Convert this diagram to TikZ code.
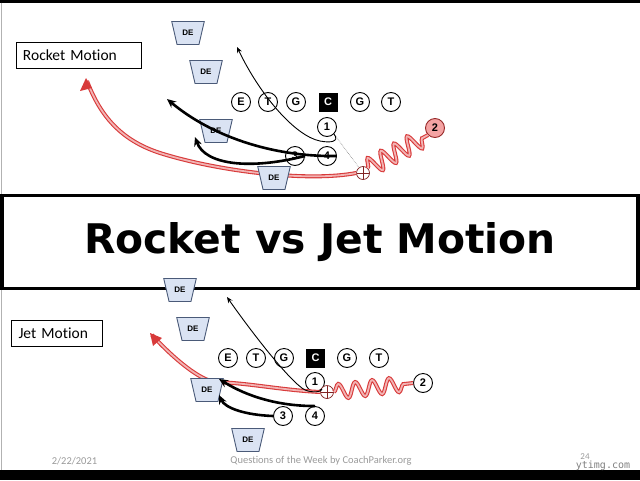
\documentclass[tikz,border=0pt]{standalone}
\usepackage{fontspec}
\setmainfont{Carlito}[Ligatures=NoCommon]
\newfontfamily\boldsans{Liberation Sans}
\newfontfamily\titlefont{DejaVu Sans}
\newfontfamily\markfont{DejaVu Sans Mono}
\usetikzlibrary{shapes.geometric,arrows.meta,decorations.pathmorphing}

\definecolor{defill}{HTML}{DAE3F3}
\definecolor{deline}{HTML}{4A5A78}
\definecolor{runred}{HTML}{D83A3A}
\definecolor{runpink}{HTML}{F2B4B4}
\definecolor{ballpink}{HTML}{F4A3A3}
\definecolor{footgray}{HTML}{9A9A9A}

\tikzstyle{man} = [circle, draw, fill=white, line width=0.9, minimum size=19, inner sep=0pt, font=\boldsans\bfseries\fontsize{11}{11}\selectfont]
\tikzstyle{snapper} = [rectangle, fill=black, text=white, minimum size=19, inner sep=0pt, font=\boldsans\bfseries\fontsize{11}{11}\selectfont]
\tikzstyle{de} = [trapezium, shape border rotate=180, trapezium left angle=77, trapezium right angle=77, draw=deline, fill=defill, line width=0.9, inner xsep=5.4, inner ysep=8.6, text height=5.8, text depth=0pt, font=\boldsans\bfseries\fontsize{8}{8}\selectfont]
\tikzstyle{cross} = [circle, draw=runred!60!black, fill=white, line width=0.7, minimum size=13, inner sep=0pt, path picture={\draw[runred!60!black, line width=0.6] (path picture bounding box.north) -- (path picture bounding box.south) (path picture bounding box.east) -- (path picture bounding box.west);}]
\tikzstyle{caption} = [draw, line width=1, minimum height=26, inner xsep=7, inner ysep=0pt, align=left, font=\fontsize{15.5}{15.5}\selectfont]
\tikzstyle{blocker} = [draw, line width=2.6, -{Stealth[length=9,width=8]}]
\tikzstyle{route} = [draw, line width=0.9, -{Stealth[length=6,width=5]}]
\tikzstyle{motion} = [draw=runred, line width=1.1, double=runpink, double distance=1.8]
\tikzstyle{wiggle} = [motion, decorate]
\tikzstyle{assign} = [draw=gray, densely dotted, line width=0.6]
\tikzstyle{foot} = [text=footgray, font=\fontsize{10.5}{10.5}\selectfont]

\begin{document}
\begin{tikzpicture}[x=1pt, y=-1pt]
    \useasboundingbox (0,0) rectangle (640,480);
    % Frame
    \fill (0,0) rectangle (640,2.5);
    \fill (0,470) rectangle (640,480);
    \draw[gray!60, line width=1] (1,2.5) -- (1,470);
    \node[draw, line width=3.2, minimum width=636, minimum height=93, inner sep=0pt,
      font=\titlefont\bfseries\fontsize{40.8}{40.8}\selectfont] (title) at (320,242) {Rocket vs Jet Motion};
    \node[caption, text width=111] (rocketcap) at (78.5,55) {Rocket Motion};
    \node[caption, text width=77] (jetcap) at (57,333) {Jet Motion};

    % Nodes (rocket)
    \foreach \n/\l/\x in {ue/E/241, ut/T/268, ug/G/296, ugr/G/360, utr/T/391}
      \node[man] (\n) at (\x,102) {\l};
    \node[snapper] (uc) at (328,102) {C};
    \node[man] (u1) at (327,127) {1};
    \node[man] (u3) at (295,156) {3};
    \node[man] (u4) at (327,156) {4};
    \node[man, fill=ballpink, draw=runred!70!black] (u2) at (435,128) {2};
    \node[cross] (ux) at (363,173) {};

    % Nodes (jet)
    \foreach \n/\l/\x in {le/E/228, lt/T/256, lg/G/284, lgr/G/347, ltr/T/379}
      \node[man] (\n) at (\x,358) {\l};
    \node[snapper] (lc) at (315.5,358) {C};
    \node[man] (l1) at (315,382) {1};
    \node[man] (l3) at (283,416) {3};
    \node[man] (l4) at (315,416) {4};
    \node[man] (l2) at (423,383) {2};
    \node[cross] (lx) at (327,392) {};

    % Tips
    \coordinate (urockettip) at (87,81);
    \coordinate (uroutetip) at (237,47);
    \coordinate (ublocka) at (167,99);
    \coordinate (ublockb) at (195,137);
    \coordinate (ljettip) at (152,335);
    \coordinate (lroutetip) at (227,297);
    \coordinate (lblocka) at (219,379);
    \coordinate (lblockb) at (219,395);

    % Motion
    \draw[assign] (u1.south east) -- (ux);
    \draw[motion] (ux.west) .. controls (310,182) and (220,172) .. (160,153)
      .. controls (120,140) and (100,115) .. (urockettip);
    \fill[runred] (urockettip) ++(-1,-3) -- ++(-6,13) -- ++(12,-3) -- cycle;
    \draw[wiggle, decoration={snake, amplitude=9, segment length=15, post length=2}] (ux.north east) -- (u2.south west);
    \draw[motion] (lx.west) .. controls (280,390) and (250,383) .. (215,382)
      .. controls (200,380) and (175,360) .. (ljettip);
    \fill[runred] (ljettip) ++(-2,-2) -- ++(3,13) -- ++(9,-8) -- cycle;
    \draw[wiggle, decoration={snake, amplitude=7.5, segment length=17, post length=2}] (lx.east) -- (l2.west);

    % Defense
    \foreach \n/\x/\y in {ud1/188/33, ud2/206/72, ud3/216/131, ud4/274/178, ld1/180/290, ld2/193/329, ld3/207/390, ld4/248/440}
      \node[de] (\n) at (\x,\y) {DE};

    % Routes and blocks
    \draw[route] (u1.south east) .. controls (340,142) and (330,143) .. (320,141)
      .. controls (295,136) and (260,95) .. (uroutetip);
    \draw[blocker] (u4.east) .. controls (270,157) and (210,135) .. (ublocka);
    \draw[blocker] (u3.east) .. controls (250,170) and (205,165) .. (ublockb);
    \draw[route] (l1.south east) .. controls (322,392) and (312,393) .. (305,390)
      .. controls (290,382) and (250,330) .. (lroutetip);
    \draw[blocker] (l4.north) .. controls (270,406) and (240,392) .. (lblocka);
    \draw[blocker] (l3.west) .. controls (245,415) and (225,408) .. (lblockb);

    % Footer
    \node[foot] (date) at (74.5,461) {2/22/2021};
    \node[foot] (source) at (321,461) {Questions of the Week by CoachParker.org};
    \node[foot, font=\fontsize{9}{9}\selectfont] (page) at (585,457) {24};
    \node[text=gray, font=\markfont\fontsize{10}{10}\selectfont] (mark) at (603,466) {ytimg.com};
  \end{tikzpicture}
\end{document}
